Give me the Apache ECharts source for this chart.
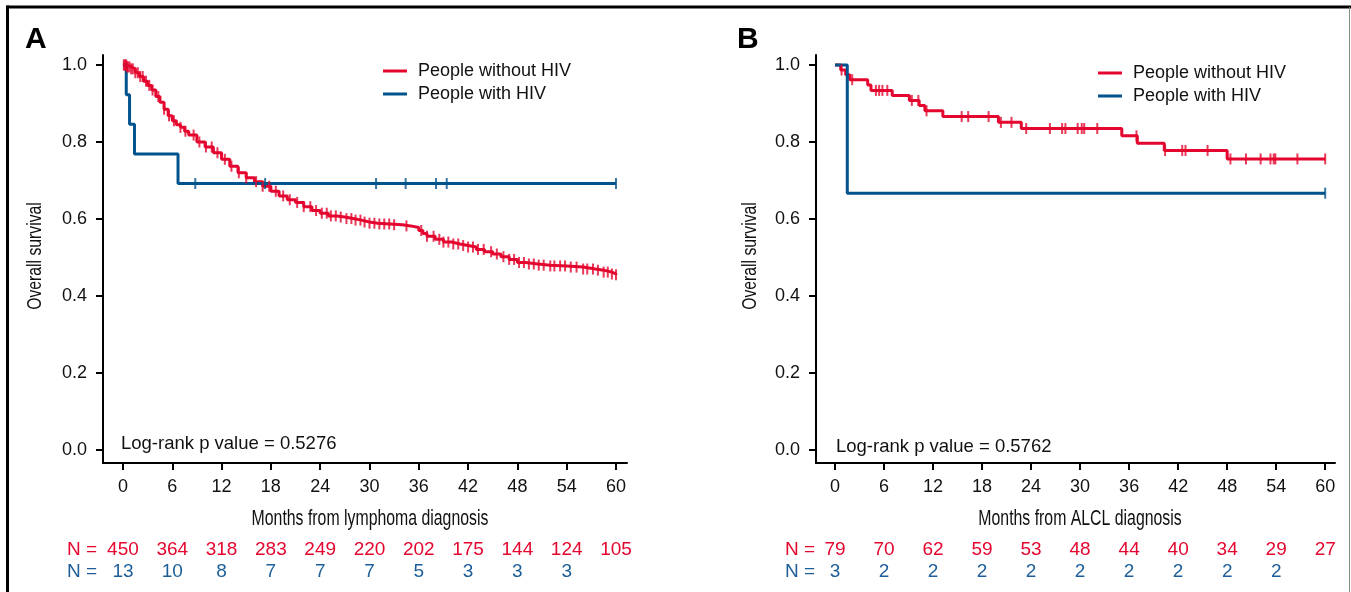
<!DOCTYPE html>
<html><head><meta charset="utf-8">
<script src="https://cdn.jsdelivr.net/npm/echarts@6/dist/echarts.min.js"></script>
<style>html,body{margin:0;padding:0;background:#fff}#c{width:1351px;height:592px}</style>
</head><body><div id="c"></div>
<script>
// ---------- data ----------
const xTicks = [0, 6, 12, 18, 24, 30, 36, 42, 48, 54, 60];
const yTicks = [0, 0.2, 0.4, 0.6, 0.8, 1.0];
const seriesNames = ['People without HIV', 'People with HIV'];

const atRiskA_noHIV = [450, 364, 318, 283, 249, 220, 202, 175, 144, 124, 105];
const atRiskA_HIV = [13, 10, 8, 7, 7, 7, 5, 3, 3, 3];
const atRiskB_noHIV = [79, 70, 62, 59, 53, 48, 44, 40, 34, 29, 27];
const atRiskB_HIV = [3, 2, 2, 2, 2, 2, 2, 2, 2, 2];

// Panel A - people without HIV (step points: time, survival after drop)
const timesA_noHIV = [0, 0.5, 1.0, 1.5, 2.0, 2.5, 3.0, 3.5, 4.0, 4.5, 5.0, 5.5, 6.0, 6.5, 7.0, 7.5, 8.0, 9.0, 10.0, 11.0, 12.0, 13.0, 14.0, 15.0, 16.0, 17.0, 18.0, 19.0, 20.0, 21.0, 22.0, 23.0, 24.0, 25.0, 26.0, 27.0, 28.0, 29.0, 30.0, 31.0, 32.5, 34.0, 35.0, 36.0, 36.5, 37.0, 38.0, 39.0, 40.0, 41.0, 42.0, 43.0, 44.0, 45.0, 46.0, 47.0, 48.0, 49.0, 50.5, 52.0, 54.0, 56.0, 57.5, 58.5, 59.5, 60.0];
const survA_noHIV = [1.0, 0.995, 0.99, 0.98, 0.97, 0.958, 0.947, 0.935, 0.918, 0.903, 0.885, 0.868, 0.855, 0.845, 0.838, 0.828, 0.818, 0.80, 0.787, 0.772, 0.755, 0.737, 0.72, 0.707, 0.697, 0.685, 0.672, 0.66, 0.65, 0.643, 0.632, 0.622, 0.615, 0.608, 0.605, 0.601, 0.597, 0.592, 0.589, 0.587, 0.585, 0.582, 0.578, 0.57, 0.562, 0.555, 0.547, 0.54, 0.535, 0.531, 0.527, 0.521, 0.515, 0.509, 0.502, 0.495, 0.487, 0.483, 0.48, 0.478, 0.475, 0.47, 0.467, 0.462, 0.457, 0.455];
const censorA_noHIV = [0.1, 0.2, 0.3, 0.4, 0.5, 0.6, 0.8, 1.0, 1.2, 1.5, 1.8, 2.1, 2.4, 2.8, 3.2, 3.6, 4.3, 5.0, 5.6, 6.2, 7.0, 7.6, 8.6, 9.3, 10.1, 10.8, 11.5, 12.4, 13.2, 14.1, 15.0, 16.2, 17.0, 17.8, 18.6, 19.5, 20.3, 21.2, 22.0, 22.8, 23.5, 24.2, 24.8, 25.3, 25.9, 26.5, 27.2, 27.8, 28.3, 28.9, 29.4, 30.0, 30.6, 31.2, 31.8, 32.4, 33.0, 34.5, 36.3, 37.0, 37.8, 38.5, 39.0, 39.6, 40.2, 40.8, 41.4, 42.0, 42.6, 43.2, 43.9, 44.8, 45.5, 46.3, 47.0, 47.6, 48.2, 48.8, 49.4, 50.0, 50.6, 51.2, 52.0, 52.5, 53.2, 53.8, 54.5, 55.2, 56.0, 56.5, 57.2, 57.8, 58.5, 59.0, 59.5, 60.0];

// Panel A - people with HIV
const timesA_HIV = [0, 0.4, 0.8, 1.4, 6.7, 60];
const survA_HIV = [1.0, 0.923, 0.846, 0.769, 0.692, 0.692];
const censorA_HIV = [8.8, 17.3, 30.8, 34.4, 38.1, 39.4, 60];

// Panel B - people without HIV
const timesB_noHIV = [0, 0.7, 1.3, 1.8, 4.0, 4.4, 7.0, 9.1, 10.3, 11.0, 13.2, 20.0, 22.8, 35.1, 37.0, 40.3, 48.0, 60.0];
const survB_noHIV = [1.0, 0.987, 0.975, 0.962, 0.948, 0.934, 0.921, 0.908, 0.895, 0.881, 0.866, 0.851, 0.835, 0.816, 0.797, 0.778, 0.756, 0.756];
const censorB_noHIV = [0.8, 2.1, 5.0, 5.4, 5.8, 6.4, 9.4, 10.2, 11.2, 15.5, 16.3, 18.8, 20.3, 21.6, 23.4, 26.3, 27.8, 28.2, 29.7, 30.2, 30.5, 32.1, 36.9, 40.4, 42.5, 42.9, 45.6, 48.4, 50.3, 52.1, 53.3, 53.7, 53.9, 56.6, 60.0];

// Panel B - people with HIV
const timesB_HIV = [0, 1.5, 60];
const survB_HIV = [1.0, 0.667, 0.667];
const censorB_HIV = [60];

const pValueA = 'Log-rank p value = 0.5276';
const pValueB = 'Log-rank p value = 0.5762';
const xTitleA = 'Months from lymphoma diagnosis';
const xTitleB = 'Months from ALCL diagnosis';
const yTitle = 'Overall survival';

// ---------- helpers ----------
const RED = '#e4062e';
const BLUE = '#00538c';
const NBLUE = '#1d5e98';
const FONT = '"Liberation Sans", Arial, sans-serif';

function pairs(t, s) { return t.map((v, i) => [v, s[i]]); }
function survAt(t, s, x) {
  let v = s[0];
  for (let i = 0; i < t.length; i++) { if (t[i] <= x) v = s[i]; else break; }
  return v;
}
function censorPts(c, t, s) { return c.map(x => [x, survAt(t, s, x)]); }

const grids = [
  { left: 103, top: 55, width: 524, height: 408 },
  { left: 816, top: 55, width: 519, height: 408 }
];
const xRanges = [[-2.43, 61.34], [-2.33, 61.2]];

const xAxes = [];
const yAxes = [];
[0, 1].forEach(g => {
  xAxes.push({
    type: 'value', gridIndex: g, min: xRanges[g][0], max: xRanges[g][1],
    axisLine: { show: true, onZero: false, lineStyle: { color: '#000', width: 2 } },
    axisTick: { show: true, customValues: xTicks, length: 7, lineStyle: { color: '#000', width: 2 } },
    axisLabel: { show: true, customValues: xTicks, margin: 15, fontSize: 18, fontFamily: FONT, color: '#111' },
    splitLine: { show: false }
  });
  yAxes.push({
    type: 'value', gridIndex: g, min: -0.034, max: 1.026,
    axisLine: { show: true, onZero: false, lineStyle: { color: '#000', width: 2 } },
    axisTick: { show: true, customValues: yTicks, length: 7, lineStyle: { color: '#000', width: 2 } },
    axisLabel: { show: true, customValues: yTicks, margin: 16, fontSize: 18, fontFamily: FONT, color: '#111',
      formatter: v => v.toFixed(1) },
    splitLine: { show: false }
  });
});
// at-risk rows as extra x axes
const riskRows = [
  { g: 0, vals: atRiskA_noHIV, color: RED, offset: 70 },
  { g: 0, vals: atRiskA_HIV, color: NBLUE, offset: 92 },
  { g: 1, vals: atRiskB_noHIV, color: RED, offset: 70 },
  { g: 1, vals: atRiskB_HIV, color: NBLUE, offset: 92 }
];
riskRows.forEach(r => {
  xAxes.push({
    type: 'value', gridIndex: r.g, min: xRanges[r.g][0], max: xRanges[r.g][1],
    position: 'bottom', offset: r.offset,
    axisLine: { show: false }, axisTick: { show: false }, splitLine: { show: false },
    axisLabel: { show: true, customValues: xTicks.slice(0, r.vals.length), margin: 7,
      fontSize: 19, fontFamily: FONT, color: r.color,
      formatter: v => String(r.vals[Math.round(v / 6)]) }
  });
});

function lineSeries(name, g, t, s, color) {
  return { name, type: 'line', xAxisIndex: g, yAxisIndex: g, data: pairs(t, s), step: 'end',
    showSymbol: false, symbol: 'none', lineStyle: { color, width: 3 }, itemStyle: { color },
    emphasis: { disabled: true }, z: 3 };
}
function censorSeries(name, g, c, t, s, color) {
  return { name, type: 'scatter', xAxisIndex: g, yAxisIndex: g, data: censorPts(c, t, s),
    symbol: 'rect', symbolSize: [2, 11], itemStyle: { color }, emphasis: { disabled: true }, z: 4 };
}

const series = [
  lineSeries(seriesNames[0], 0, timesA_noHIV, survA_noHIV, RED),
  lineSeries(seriesNames[1], 0, timesA_HIV, survA_HIV, BLUE),
  censorSeries('cA0', 0, censorA_noHIV, timesA_noHIV, survA_noHIV, RED),
  censorSeries('cA1', 0, censorA_HIV, timesA_HIV, survA_HIV, BLUE),
  lineSeries(seriesNames[0], 1, timesB_noHIV, survB_noHIV, RED),
  lineSeries(seriesNames[1], 1, timesB_HIV, survB_HIV, BLUE),
  censorSeries('cB0', 1, censorB_noHIV, timesB_noHIV, survB_noHIV, RED),
  censorSeries('cB1', 1, censorB_HIV, timesB_HIV, survB_HIV, BLUE)
];

function legendAt(left, top) {
  return { data: seriesNames, left, top, padding: 0, orient: 'vertical', icon: 'rect', itemWidth: 24, itemHeight: 3,
    itemGap: 5, selectedMode: false,
    textStyle: { fontSize: 18, fontFamily: FONT, color: '#111', lineHeight: 18, padding: [0, 0, 0, 6] } };
}

function txt(x, y, text, font, fill, align, valign, rot, sx) {
  return { type: 'text', x, y, rotation: rot || 0, scaleX: sx || 1, scaleY: 1, silent: true,
    style: { text, font, fill, textAlign: align || 'left', align: align || 'left',
      textVerticalAlign: valign || 'middle', verticalAlign: valign || 'middle' } };
}

const graphic = [
  { type: 'line', shape: { x1: 6.5, y1: 7, x2: 1351, y2: 7 }, style: { stroke: '#000', lineWidth: 3 }, silent: true },
  { type: 'line', shape: { x1: 7.5, y1: 5.5, x2: 7.5, y2: 592 }, style: { stroke: '#000', lineWidth: 3 }, silent: true },
  { type: 'line', shape: { x1: 1349.5, y1: 7, x2: 1349.5, y2: 592 }, style: { stroke: '#888', lineWidth: 1 }, silent: true },
  txt(25, 40, 'A', 'bold 30px ' + FONT, '#000'),
  txt(737, 40, 'B', 'bold 30px ' + FONT, '#000'),
  txt(35, 256, yTitle, '21px ' + FONT, '#111', 'center', 'middle', Math.PI / 2, 0.75),
  txt(750, 256, yTitle, '21px ' + FONT, '#111', 'center', 'middle', Math.PI / 2, 0.75),
  txt(370, 519, xTitleA, '22px ' + FONT, '#111', 'center', 'middle', 0, 0.72),
  txt(1080, 519, xTitleB, '22px ' + FONT, '#111', 'center', 'middle', 0, 0.72),
  txt(121, 444, pValueA, '18.5px ' + FONT, '#111'),
  txt(836, 447, pValueB, '18.5px ' + FONT, '#111'),
  txt(67, 550, 'N =', '19px ' + FONT, RED),
  txt(67, 572, 'N =', '19px ' + FONT, NBLUE),
  txt(785, 550, 'N =', '19px ' + FONT, RED),
  txt(785, 572, 'N =', '19px ' + FONT, NBLUE)
];

const chart = echarts.init(document.getElementById('c'), null, { renderer: 'canvas' });
chart.setOption({
  animation: false,
  backgroundColor: '#fff',
  grid: grids,
  xAxis: xAxes,
  yAxis: yAxes,
  legend: [legendAt(383, 62), legendAt(1098, 64)],
  series,
  graphic
});
</script></body></html>
